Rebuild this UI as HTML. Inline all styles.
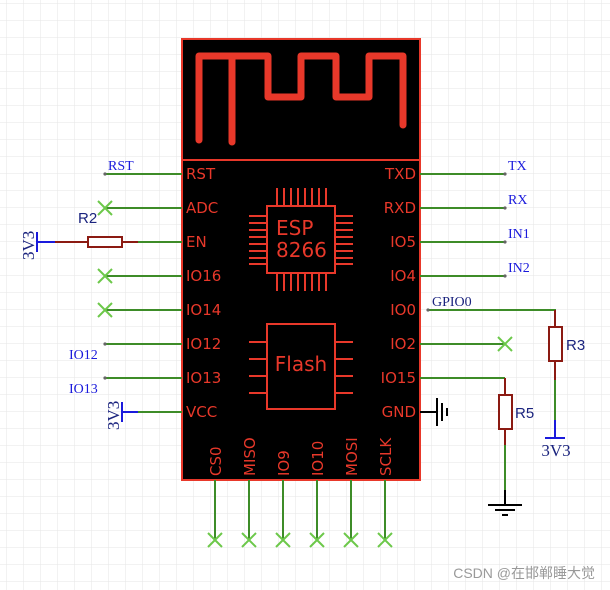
<!DOCTYPE html>
<html><head><meta charset="utf-8"><style>
html,body{margin:0;padding:0;background:#fff}
svg{display:block}
.pl{font-family:"DejaVu Sans","Liberation Sans",sans-serif;font-size:15px;fill:#e8382a}
.bl{font-family:"Liberation Serif",serif;font-size:14px;fill:#1a1adc}
.db{font-family:"Liberation Serif",serif;fill:#1a237e}
.rl{font-family:"Liberation Sans",sans-serif;font-size:15px;fill:#1a237e}
</style></head><body>
<svg width="610" height="590" viewBox="0 0 610 590" xmlns="http://www.w3.org/2000/svg">
<defs>
<pattern id="g" x="6" y="3" width="17" height="17" patternUnits="userSpaceOnUse">
<path d="M0 0H17M0 0V17" stroke="#e6e6e6" stroke-width="1" fill="none"/>
</pattern>
</defs>
<rect width="610" height="590" fill="url(#g)"/>

<!-- chip -->
<rect x="182" y="39" width="238" height="441" fill="#000" stroke="#e8382a" stroke-width="2"/>
<line x1="182" y1="160" x2="420" y2="160" stroke="#e8382a" stroke-width="2"/>
<path d="M199 140V56H232V142M232 56H268V97H301V56H336V97H369V56H403V125" fill="none" stroke="#e8382a" stroke-width="7" stroke-linecap="round" stroke-linejoin="round"/>

<!-- ESP -->
<g stroke="#e8382a" stroke-width="2" fill="none">
<rect x="267" y="206" width="68" height="67"/>
<path d="M277 188V206M284 188V206M291 188V206M298 188V206M305 188V206M312 188V206M319 188V206M326 188V206"/>
<path d="M277 273V291M284 273V291M291 273V291M298 273V291M305 273V291M312 273V291M319 273V291M326 273V291"/>
<path d="M249 216H267M249 223H267M249 230H267M249 237H267M249 244H267M249 251H267M249 258H267M249 264H267"/>
<path d="M335 216H353M335 223H353M335 230H353M335 237H353M335 244H353M335 251H353M335 258H353M335 264H353"/>
<rect x="267" y="324" width="68" height="85"/>
<path d="M249 342H267M249 359H267M249 376H267M249 393H267M335 342H353M335 359H353M335 376H353M335 393H353"/>
</g>
<text x="276" y="235" class="pl" style="font-size:20px">ESP</text>
<text x="276" y="257" class="pl" style="font-size:20px">8266</text>
<text x="301" y="371" class="pl" style="font-size:20px" text-anchor="middle">Flash</text>

<!-- pin labels -->
<g class="pl">
<text x="186" y="179">RST</text><text x="186" y="213">ADC</text><text x="186" y="247">EN</text>
<text x="186" y="281">IO16</text><text x="186" y="315">IO14</text><text x="186" y="349">IO12</text>
<text x="186" y="383">IO13</text><text x="186" y="417">VCC</text>
</g>
<g class="pl" text-anchor="end">
<text x="416" y="179">TXD</text><text x="416" y="213">RXD</text><text x="416" y="247">IO5</text>
<text x="416" y="281">IO4</text><text x="416" y="315">IO0</text><text x="416" y="349">IO2</text>
<text x="416" y="383">IO15</text><text x="416" y="417">GND</text>
</g>
<g class="pl">
<text transform="translate(221,476) rotate(-90)">CS0</text>
<text transform="translate(255,476) rotate(-90)">MISO</text>
<text transform="translate(289,476) rotate(-90)">IO9</text>
<text transform="translate(323,476) rotate(-90)">IO10</text>
<text transform="translate(357,476) rotate(-90)">MOSI</text>
<text transform="translate(391,476) rotate(-90)">SCLK</text>
</g>

<!-- wires -->
<g stroke="#3d8c28" stroke-width="2" fill="none">
<path d="M105 174H182M105 208H182M138 242H182M105 276H182M105 310H182M105 344H182M105 378H182M138 412H182"/>
<path d="M420 174H505M420 208H505M420 242H505M420 276H505M428 310H555V325M420 344H505M420 378H505"/>
<path d="M555 380V420M505 445V490"/>
<path d="M215 480V540M249 480V540M283 480V540M317 480V540M351 480V540M385 480V540"/>
</g>
<!-- X marks -->
<g stroke="#6cc84a" stroke-width="2">
<path d="M98 201L112 215M112 201L98 215M98 269L112 283M112 269L98 283M98 303L112 317M112 303L98 317M498 337L512 351M512 337L498 351"/>
<path d="M208 533L222 547M222 533L208 547M242 533L256 547M256 533L242 547M276 533L290 547M290 533L276 547M310 533L324 547M324 533L310 547M344 533L358 547M358 533L344 547M378 533L392 547M392 533L378 547"/>
</g>
<!-- dots -->
<g fill="#666"><circle cx="105" cy="174" r="1.6"/><circle cx="105" cy="344" r="1.6"/><circle cx="105" cy="378" r="1.6"/>
<circle cx="505" cy="174" r="1.6"/><circle cx="505" cy="208" r="1.6"/><circle cx="505" cy="242" r="1.6"/><circle cx="505" cy="276" r="1.6"/><circle cx="428" cy="310" r="1.6"/></g>

<!-- resistors -->
<g stroke="#8b1a12" stroke-width="2" fill="#fff">
<path d="M55 242H88M122 242H138" fill="none"/>
<rect x="88" y="237" width="34" height="10"/>
<path d="M555 310V327M555 361V380M505 378V395M505 429V445" fill="none"/>
<rect x="549" y="327" width="13" height="34"/>
<rect x="499" y="395" width="13" height="34"/>
</g>
<!-- 3V3 symbols -->
<g stroke="#1a1adc" stroke-width="2" fill="none">
<path d="M37 232V252M37 242H55"/>
<path d="M122 402V422M122 412H138"/>
<path d="M555 420V438M545 438H565"/>
</g>
<text class="db" style="font-size:17px" transform="translate(34,260) rotate(-90)">3V3</text>
<text class="db" style="font-size:17px" transform="translate(119,430) rotate(-90)">3V3</text>
<text class="db" style="font-size:17px" x="556" y="456" text-anchor="middle">3V3</text>
<text class="rl" x="78" y="223">R2</text>
<text class="rl" x="566" y="350">R3</text>
<text class="rl" x="515" y="418">R5</text>

<!-- grounds -->
<g stroke="#000" stroke-width="2" fill="none">
<path d="M420 412H437M437 398V426M442 403V421M447 408V416"/>
<path d="M505 490V505M488 505H522M495 510H515M502 515H508"/>
</g>

<!-- net labels -->
<g class="bl">
<text x="108" y="170">RST</text><text x="69" y="359">IO12</text><text x="69" y="393">IO13</text>
<text x="508" y="170">TX</text><text x="508" y="204">RX</text><text x="508" y="238">IN1</text><text x="508" y="272">IN2</text>
</g>
<text x="432" y="306" class="db" style="font-size:14px">GPIO0</text>

<text x="595" y="578" text-anchor="end" style="font-family:'Liberation Sans','Noto Sans CJK SC',sans-serif;font-size:14px;fill:#999">CSDN @在邯郸睡大觉</text>
</svg>
</body></html>
